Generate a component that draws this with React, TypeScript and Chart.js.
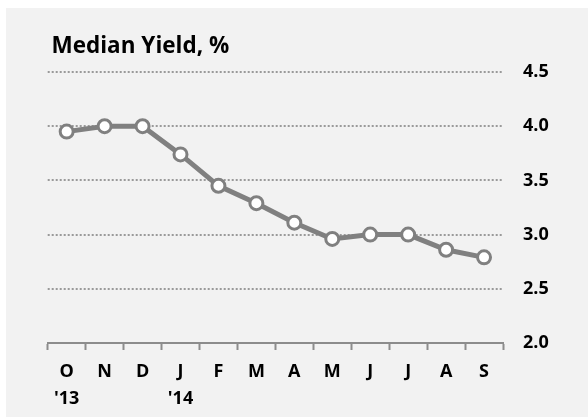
import React, { useEffect, useRef } from "react";
import { Chart, registerables } from "chart.js";

Chart.register(...registerables);

const titleText = "Median Yield, %";
const categories: (string | string[])[] = [["O", "'13"], "N", "D", ["J", "'14"], "F", "M", "A", "M", "J", "J", "A", "S"];
const yields = [3.95, 4.0, 4.0, 3.74, 3.45, 3.29, 3.11, 2.96, 3.0, 3.0, 2.86, 2.79];
const yTickValues = [2.0, 2.5, 3.0, 3.5, 4.0, 4.5];

const FONT = "'Open Sans', 'DejaVu Sans', sans-serif";
const W = 582;
const H = 409;

export default function App() {
  const ref = useRef<HTMLCanvasElement | null>(null);

  useEffect(() => {
    if (!ref.current) return;
    const titlePlugin = {
      id: "cornerTitle",
      afterDraw(chart: any) {
        const ctx = chart.ctx;
        ctx.save();
        ctx.font = `bold 22.5px ${FONT}`;
        ctx.fillStyle = "#000000";
        ctx.textAlign = "left";
        ctx.textBaseline = "alphabetic";
        ctx.fillText(titleText, 45.5, 44.5);
        ctx.restore();
      },
    };
    const chart = new Chart(ref.current, {
      type: "line",
      data: {
        labels: categories,
        datasets: [
          {
            data: yields,
            borderColor: "#808080",
            borderWidth: 5,
            pointRadius: 6.5,
            pointHoverRadius: 6.5,
            pointBackgroundColor: "#ffffff",
            pointBorderColor: "#808080",
            pointBorderWidth: 3,
            tension: 0,
            clip: false as any,
          },
        ],
      },
      options: {
        responsive: false,
        animation: false,
        events: [],
        layout: { padding: { left: 41.7, top: 64, right: 22, bottom: 0 } },
        plugins: {
          legend: { display: false },
          title: { display: false },
          tooltip: { enabled: false },
        },
        scales: {
          x: {
            type: "category",
            offset: true,
            grid: {
              offset: true,
              drawOnChartArea: false,
              drawTicks: true,
              tickLength: 7,
              tickWidth: 2,
              tickColor: "#8c8c8c",
            },
            border: { display: true, color: "#8c8c8c", width: 2 },
            ticks: {
              color: "#000000",
              font: { family: FONT, size: 18, weight: "bold", lineHeight: 1.5 },
              padding: 8,
              maxRotation: 0,
              autoSkip: false,
            },
            afterFit(scale: any) {
              scale.height = 74;
            },
          },
          y: {
            position: "right",
            min: yTickValues[0],
            max: yTickValues[yTickValues.length - 1],
            afterBuildTicks(scale: any) {
              scale.ticks = yTickValues.map((v) => ({ value: v }));
            },
            grid: {
              drawTicks: false,
              color: "#9a9a9a",
              lineWidth: 2,
            },
            border: { display: false, dash: [2, 2] },
            ticks: {
              color: "#000000",
              font: { family: FONT, size: 18, weight: "bold" },
              padding: 20,
              callback: (v: any) => Number(v).toFixed(1),
            },
            afterFit(scale: any) {
              scale.width = 63;
            },
          },
        },
      },
      plugins: [titlePlugin],
    });
    return () => chart.destroy();
  }, []);

  return (
    <div
      style={{
        position: "fixed",
        left: 6,
        top: 8,
        width: W,
        height: H,
        background: "#f2f2f2",
      }}
    >
      <canvas ref={ref} width={W} height={H} style={{ display: "block", width: W, height: H }} />
    </div>
  );
}
